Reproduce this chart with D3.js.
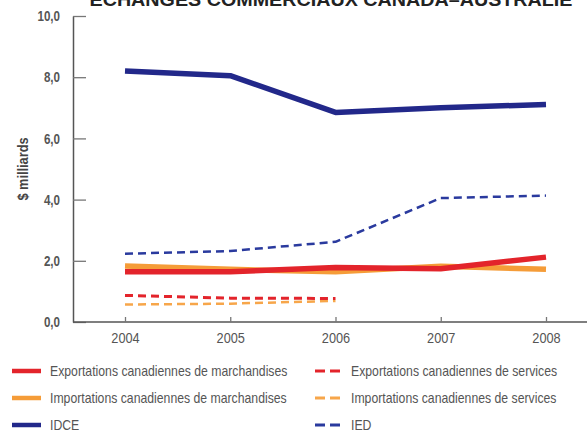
<!DOCTYPE html>
<html><head><meta charset="utf-8">
<script src="https://cdn.jsdelivr.net/npm/d3@7"></script>
<style>
html,body{margin:0;padding:0;background:#fff;}
svg{display:block;}
text{font-family:"Liberation Sans","Arial",sans-serif;}
</style></head>
<body>
<svg id="chart" width="587" height="437"></svg>
<script>
const title = "ÉCHANGES COMMERCIAUX CANADA–AUSTRALIE";
const yAxisTitle = "$ milliards";
const years = [2004, 2005, 2006, 2007, 2008];
const yTicks = [0, 2, 4, 6, 8, 10];

const exportsMerch = [1.64, 1.64, 1.78, 1.74, 2.12];
const importsMerch = [1.83, 1.72, 1.64, 1.82, 1.72];
const exportsServ  = [0.87, 0.78, 0.77];
const importsServ  = [0.57, 0.60, 0.69];
const idce = [8.2, 8.05, 6.85, 7.0, 7.11];
const ied  = [2.23, 2.32, 2.62, 4.05, 4.13];

const seriesNames = [
  "Exportations canadiennes de marchandises",
  "Importations canadiennes de marchandises",
  "IDCE",
  "Exportations canadiennes de services",
  "Importations canadiennes de services",
  "IED"
];

const series = [
  {name: seriesNames[0], values: exportsMerch, color: "#e3242b", width: 5.5, dash: null},
  {name: seriesNames[1], values: importsMerch, color: "#f59c38", width: 5.5, dash: null},
  {name: seriesNames[2], values: idce, color: "#22288a", width: 5.5, dash: null},
  {name: seriesNames[3], values: exportsServ, color: "#e3242b", width: 3, dash: "8,5"},
  {name: seriesNames[4], values: importsServ, color: "#f7a64a", width: 2.5, dash: "8,5"},
  {name: seriesNames[5], values: ied, color: "#2a3a9e", width: 2.5, dash: "8,5"}
];

const W = 587, H = 437;
const svg = d3.select("#chart");
const axisX = 73, axisTop = 16, axisBottom = 322;
const x = d3.scaleLinear().domain([2004, 2008]).range([125, 546]);
const y = d3.scaleLinear().domain([0, 10]).range([axisBottom, axisTop]);

// condensed text helper: horizontal squeeze around anchor point
function squeeze(sel, sx) {
  sel.each(function() {
    const t = d3.select(this);
    const tx = +t.attr("x") || 0, ty = +t.attr("y") || 0;
    t.attr("transform", `translate(${tx},${ty}) scale(${sx},1) translate(${-tx},${-ty})`);
  });
}

// title (cut at the top in the reference)
svg.append("text").attr("x", 331).attr("y", 6)
  .attr("text-anchor", "middle").attr("font-weight", "bold")
  .attr("font-size", 18).attr("fill", "#222")
  .attr("textLength", 483).attr("lengthAdjust", "spacingAndGlyphs")
  .text(title);

// y axis
const fmt = v => d3.format(".1f")(v).replace(".", ",");
const gy = svg.append("g").attr("transform", `translate(${axisX},0)`)
  .call(d3.axisLeft(y).tickValues(yTicks).tickSizeInner(-13).tickSizeOuter(0).tickPadding(13).tickFormat(fmt));
gy.select(".domain").attr("stroke", "#555").attr("stroke-width", 1.5);
gy.selectAll(".tick line").attr("stroke", "#777").attr("stroke-width", 1.3);
gy.selectAll(".tick text").attr("font-size", 14.5).attr("fill", "#555").attr("font-weight", "bold")
  .attr("font-family", "'Liberation Sans',sans-serif").attr("x", -13);
squeeze(gy.selectAll(".tick text"), 0.8);

// x axis
const gx = svg.append("g").attr("transform", `translate(0,${axisBottom})`)
  .call(d3.axisBottom(x).tickValues(years).tickSizeInner(-5).tickSizeOuter(0).tickPadding(10).tickFormat(d3.format("d")));
gx.select(".domain").remove();
gx.insert("line", ":first-child").attr("x1", axisX).attr("x2", W).attr("y1", 0).attr("y2", 0)
  .attr("stroke", "#555").attr("stroke-width", 1.5);
gx.selectAll(".tick line").attr("stroke", "#777").attr("stroke-width", 1.3);
gx.selectAll(".tick text").attr("font-size", 15).attr("fill", "#555").attr("x", 0);
squeeze(gx.selectAll(".tick text"), 0.85);

// y axis title
svg.append("text").attr("transform", `translate(28,${(axisTop + axisBottom) / 2}) rotate(-90) scale(0.85,1)`)
  .attr("text-anchor", "middle").attr("font-weight", "bold").attr("font-size", 15).attr("fill", "#444")
  .text(yAxisTitle);

// lines
const line = d3.line().x((d, i) => x(years[i])).y(d => y(d));
const order = [5, 4, 3, 1, 0, 2];
order.forEach(k => {
  const s = series[k];
  svg.append("path").datum(s.values)
    .attr("fill", "none").attr("stroke", s.color).attr("stroke-width", s.width)
    .attr("stroke-dasharray", s.dash).attr("stroke-linejoin", "round")
    .attr("d", line);
});

// legend
const legX = [12, 315], legY = [371, 398, 425];
series.forEach((s, i) => {
  const col = Math.floor(i / 3), row = i % 3;
  const g = svg.append("g").attr("transform", `translate(${legX[col]},${legY[row]})`);
  g.append("line").attr("x1", 0).attr("x2", 29).attr("y1", 0).attr("y2", 0)
    .attr("stroke", s.color).attr("stroke-width", s.dash ? 3 : 4.5)
    .attr("stroke-dasharray", s.dash ? "10,5" : null);
  const t = g.append("text").attr("x", col === 0 ? 38 : 36).attr("y", 0).attr("dy", "0.35em")
    .attr("font-size", 14).attr("fill", "#555").text(s.name);
  squeeze(t, 0.875);
});
</script>
</body></html>
